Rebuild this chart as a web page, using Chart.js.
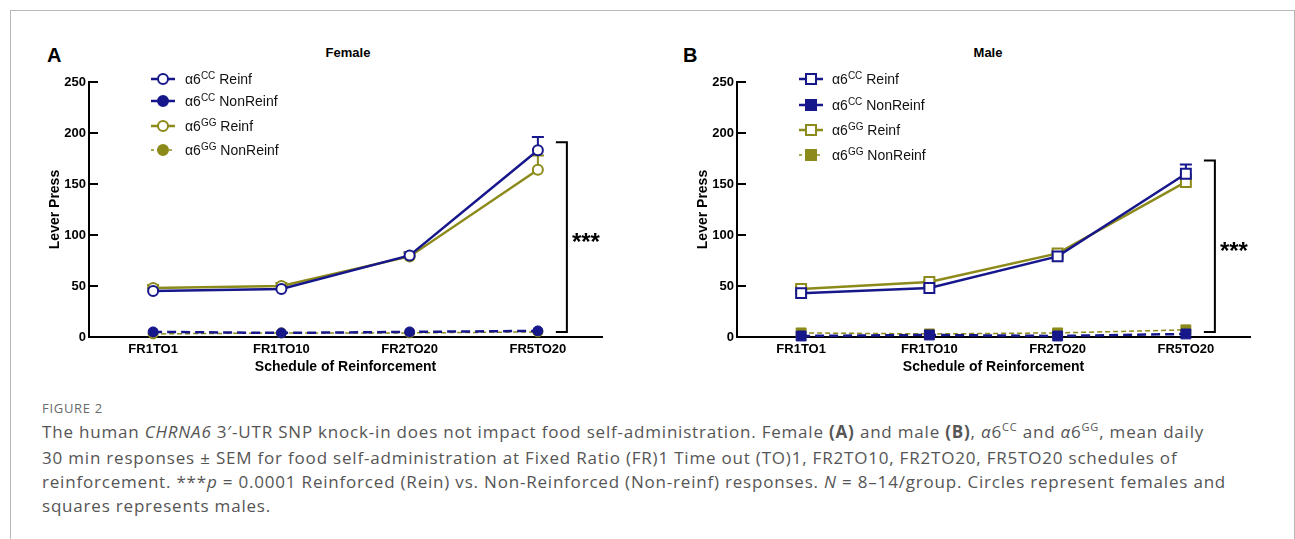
<!DOCTYPE html>
<html>
<head>
  <title>Figure 2</title>
  <style>
    /* layout of the figure page */
    body {
      margin: 0;
      width: 1295px;
      height: 539px;
      overflow: hidden;
      background: #fff;
      font-family: "Liberation Sans", Arial, sans-serif;
      position: relative;
    }
    #frame {
      position: absolute;
      left: 10px;
      top: 10px;
      width: 1283px;
      height: 600px;
      border: 1px solid #b8b8b8;
    }
    canvas { position: absolute; }
    .letter {
      position: absolute;
      font-weight: bold;
      font-size: 20px;
      line-height: 20px;
      color: #000;
    }
    .ptitle {
      position: absolute;
      font-weight: bold;
      font-size: 13px;
      line-height: 14px;
      width: 200px;
      text-align: center;
      color: #000;
    }
    .leg {
      position: absolute;
      font-size: 14px;
      line-height: 16px;
      height: 16px;
      color: #111;
      white-space: nowrap;
    }
    .leg svg { position: absolute; left: 0; top: 1px; }
    .leg span { position: absolute; top: 0; }
    .leg sup { font-size: 10px; vertical-align: 0; position: relative; top: -5px; }
    #caption {
      position: absolute;
      left: 42px;
      top: 396px;
      font-family: "Open Sans", sans-serif;
      color: #555;
      white-space: nowrap;
    }
    #caption .fig {
      font-size: 13px;
      letter-spacing: 0.7px;
      line-height: 24px;
      color: #6a6a6a;
    }
    #caption .txt {
      font-size: 17px;
      letter-spacing: 0.8px;
      line-height: 24px;
    }
    #caption sup { font-size: 11px; vertical-align: 0; position: relative; top: -7px; }
  </style>
</head>
<body>
  <div id="frame"></div>

  <div class="letter" style="left:47px; top:45px;">A</div>
  <div class="letter" style="left:683px; top:45px;">B</div>
  <div class="ptitle" style="left:248px; top:46px;">Female</div>
  <div class="ptitle" style="left:888px; top:46px;">Male</div>

  <canvas id="female" width="590" height="320" style="left:40px; top:60px;"></canvas>
  <canvas id="male" width="590" height="320" style="left:688px; top:60px;"></canvas>

  <div id="legendFemale"></div>
  <div id="legendMale"></div>

  <div id="caption">
    <div class="fig">FIGURE 2</div>
    <div class="txt">The human <i>CHRNA6</i> 3′-UTR SNP knock-in does not impact food self-administration. Female <b>(A)</b> and male <b>(B)</b>, <i>α</i>6<sup>CC</sup> and <i>α</i>6<sup>GG</sup>, mean daily<br>30 min responses ± SEM for food self-administration at Fixed Ratio (FR)1 Time out (TO)1, FR2TO10, FR2TO20, FR5TO20 schedules of<br>reinforcement. ***<i>p</i> = 0.0001 Reinforced (Rein) vs. Non-Reinforced (Non-reinf) responses. <i>N</i> = 8–14/group. Circles represent females and<br>squares represents males.</div>
  </div>

  <script src="https://cdn.jsdelivr.net/npm/chart.js"></script>
  <script>
    // dados
    const categories = ['FR1TO1', 'FR1TO10', 'FR2TO20', 'FR5TO20'];
    const yTicks = [0, 50, 100, 150, 200, 250];

    const femaleCCReinf = [45, 47, 80, 183];
    const femaleCCReinfSem = [3, 3, 3, 13];
    const femaleCCNonReinf = [5, 4, 5, 6];
    const femaleGGReinf = [48, 50, 79, 164];
    const femaleGGReinfSem = [3, 3, 3, 14];
    const femaleGGNonReinf = [3, 4, 4, 5];

    const maleCCReinf = [43, 48, 79, 160];
    const maleCCReinfSem = [2, 2, 3, 9];
    const maleCCNonReinf = [1, 2, 1, 3];
    const maleGGReinf = [47, 54, 82, 152];
    const maleGGReinfSem = [2, 2, 3, 7];
    const maleGGNonReinf = [4, 3, 4, 7];

    // limites do colchete de significancia (valores do eixo y)
    const femaleBracket = [5, 191];
    const maleBracket = [5, 173];

    const seriesNames = ['CC Reinf', 'CC NonReinf', 'GG Reinf', 'GG NonReinf'];

    const blue = '#17178c';
    const olive = '#8c8a1a';

    // barras de erro (so para cima, como no Prism)
    const errorBars = {
      id: 'errorBars',
      beforeDatasetsDraw(chart) {
        const ctx = chart.ctx;
        const y = chart.scales.y;
        chart.data.datasets.forEach(function(ds, i) {
          if (!ds.sem) return;
          const meta = chart.getDatasetMeta(i);
          meta.data.forEach(function(pt, j) {
            const top = y.getPixelForValue(ds.data[j] + ds.sem[j]);
            ctx.save();
            ctx.strokeStyle = ds.borderColor;
            ctx.lineWidth = 2;
            ctx.beginPath();
            ctx.moveTo(pt.x, pt.y);
            ctx.lineTo(pt.x, top);
            ctx.moveTo(pt.x - 6, top);
            ctx.lineTo(pt.x + 6, top);
            ctx.stroke();
            ctx.restore();
          });
        });
      }
    };

    // marcas do eixo y para dentro e colchete com ***
    const extras = {
      id: 'extras',
      afterDraw(chart, args, opts) {
        const ctx = chart.ctx;
        const y = chart.scales.y;
        const x = chart.scales.x;
        const left = chart.chartArea.left;
        ctx.save();
        ctx.strokeStyle = '#000';
        ctx.lineWidth = 2;
        y.ticks.forEach(function(t) {
          const py = y.getPixelForValue(t.value);
          ctx.beginPath();
          ctx.moveTo(left - 1, py);
          ctx.lineTo(left + 9, py);
          ctx.stroke();
        });
        const x0 = x.getPixelForValue(categories.length - 1) + 18;
        const x1 = x0 + 11;
        const yTop = y.getPixelForValue(opts.range[1]);
        const yBot = y.getPixelForValue(opts.range[0]);
        ctx.beginPath();
        ctx.moveTo(x0, yTop);
        ctx.lineTo(x1, yTop);
        ctx.lineTo(x1, yBot);
        ctx.lineTo(x0, yBot);
        ctx.stroke();
        ctx.fillStyle = '#000';
        ctx.font = 'bold 24px "Liberation Sans", Arial';
        ctx.textAlign = 'left';
        ctx.textBaseline = 'middle';
        ctx.fillText('***', x1 + 5, (yTop + yBot) / 2 + 6);
        ctx.restore();
      }
    };

    function makeDatasets(style, ccR, ccRs, ccN, ggR, ggRs, ggN) {
      const r = style === 'rect' ? 7 : 5;
      return [
        { label: seriesNames[0], data: ccR, sem: ccRs, borderColor: blue, backgroundColor: '#fff',
          borderWidth: 2.5, pointStyle: style, pointRadius: r, pointBorderWidth: 2, clip: false },
        { label: seriesNames[1], data: ccN, borderColor: blue, backgroundColor: blue,
          borderWidth: 2.5, borderDash: [9, 5], pointStyle: style, pointRadius: r, pointBorderWidth: 1, clip: false },
        { label: seriesNames[2], data: ggR, sem: ggRs, borderColor: olive, backgroundColor: '#fff',
          borderWidth: 2.5, pointStyle: style, pointRadius: r, pointBorderWidth: 2, clip: false },
        { label: seriesNames[3], data: ggN, borderColor: olive, backgroundColor: olive,
          borderWidth: 1.5, borderDash: [5, 3], pointStyle: style, pointRadius: r, pointBorderWidth: 1, clip: false }
      ];
    }

    function makeChart(id, datasets, bracket) {
      return new Chart(document.getElementById(id), {
        type: 'line',
        data: { labels: categories, datasets: datasets },
        plugins: [errorBars, extras],
        options: {
          responsive: false,
          animation: false,
          layout: { padding: { top: 22, right: 28, left: 0, bottom: 0 } },
          plugins: {
            legend: { display: false },
            tooltip: { enabled: false },
            extras: { range: bracket }
          },
          scales: {
            x: {
              offset: true,
              grid: { display: false, drawTicks: false },
              border: { color: '#000', width: 2 },
              ticks: { color: '#000', padding: 5, font: { family: '"Liberation Sans", Arial', size: 13, weight: 'bold' } },
              title: { display: true, text: 'Schedule of Reinforcement', color: '#000', padding: { top: 4, bottom: 4 },
                       font: { family: '"Liberation Sans", Arial', size: 14, weight: 'bold' } },
              afterFit: function(scale) { scale.height = 43; }
            },
            y: {
              min: 0,
              max: 250,
              afterBuildTicks: function(scale) { scale.ticks = yTicks.map(function(v) { return { value: v }; }); },
              grid: { display: false, drawTicks: false },
              border: { color: '#000', width: 2 },
              ticks: { color: '#000', padding: 3, font: { family: '"Liberation Sans", Arial', size: 13, weight: 'bold' } },
              title: { display: true, text: 'Lever Press', color: '#000', padding: { top: 7, bottom: 0 },
                       font: { family: '"Liberation Sans", Arial', size: 14, weight: 'bold' } },
              afterFit: function(scale) { scale.width = 49; }
            }
          }
        }
      });
    }

    makeChart('female', makeDatasets('circle', femaleCCReinf, femaleCCReinfSem, femaleCCNonReinf,
      femaleGGReinf, femaleGGReinfSem, femaleGGNonReinf), femaleBracket);
    makeChart('male', makeDatasets('rect', maleCCReinf, maleCCReinfSem, maleCCNonReinf,
      maleGGReinf, maleGGReinfSem, maleGGNonReinf), maleBracket);

    // legenda em HTML (por causa dos sobrescritos)
    function markerSvg(shape, color, filled, dashed) {
      const fill = filled ? color : '#fff';
      const line = dashed
        ? '<line x1="0" y1="7" x2="24" y2="7" stroke="' + color + '" stroke-width="1.5" stroke-dasharray="3,3"/>'
        : '<line x1="0" y1="7" x2="24" y2="7" stroke="' + color + '" stroke-width="2.5"/>';
      const mark = shape === 'circle'
        ? '<circle cx="12" cy="7" r="5" fill="' + fill + '" stroke="' + color + '" stroke-width="2"/>'
        : '<rect x="7" y="2" width="10" height="10" fill="' + fill + '" stroke="' + color + '" stroke-width="2"/>';
      return '<svg width="24" height="14">' + line + mark + '</svg>';
    }

    function buildLegend(id, shape, left, rows) {
      const items = [
        { g: 'CC', t: 'Reinf', c: blue, f: false, d: false },
        { g: 'CC', t: 'NonReinf', c: blue, f: true, d: false },
        { g: 'GG', t: 'Reinf', c: olive, f: false, d: false },
        { g: 'GG', t: 'NonReinf', c: olive, f: true, d: true }
      ];
      const box = document.getElementById(id);
      items.forEach(function(it, i) {
        const div = document.createElement('div');
        div.className = 'leg';
        div.style.left = left + 'px';
        div.style.top = (rows[i] - 8) + 'px';
        div.innerHTML = markerSvg(shape, it.c, it.f, it.d) +
          '<span style="left:' + (shape === 'circle' ? 34 : 33) + 'px">α6<sup>' + it.g + '</sup> ' + it.t + '</span>';
        box.appendChild(div);
      });
    }

    buildLegend('legendFemale', 'circle', 151, [79, 101, 126, 150]);
    buildLegend('legendMale', 'rect', 799, [79, 105, 130, 155]);
  </script>
</body>
</html>
